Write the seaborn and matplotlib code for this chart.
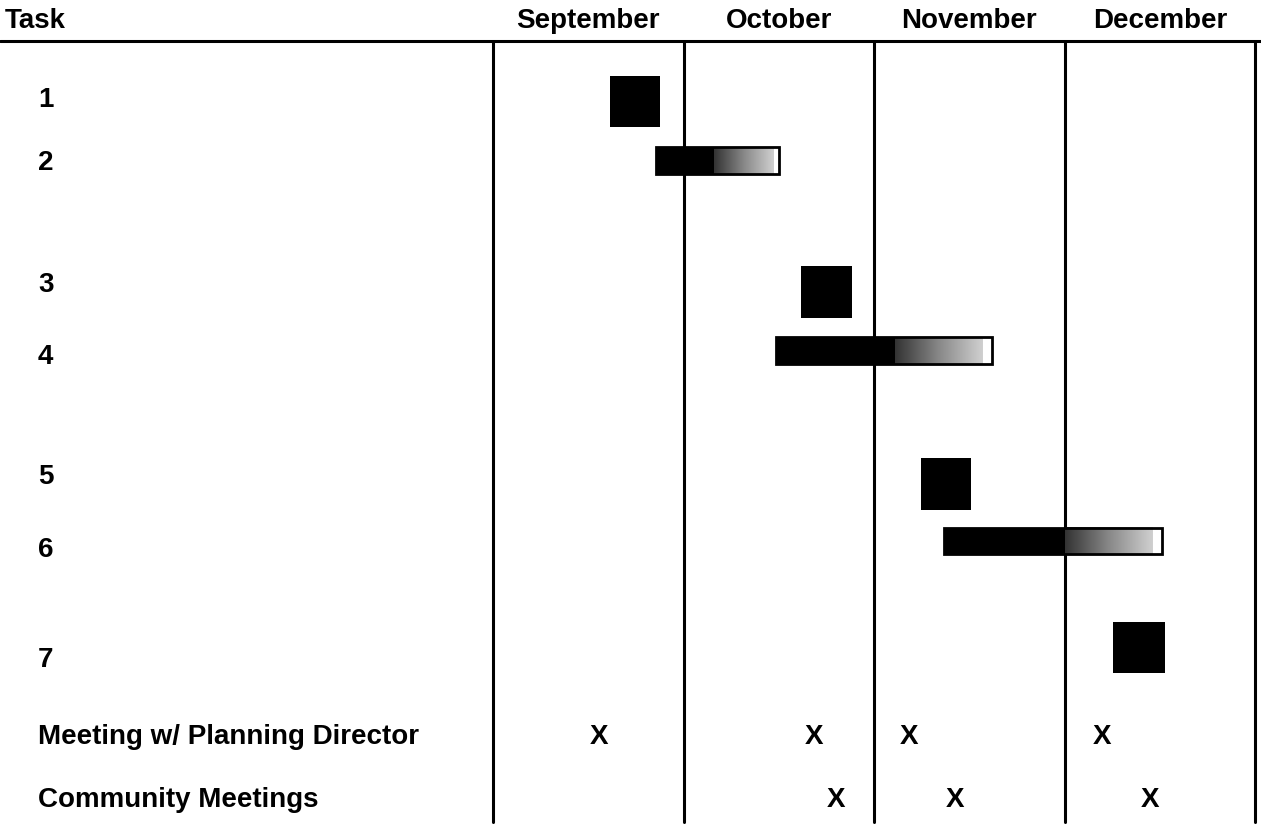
import numpy as np
import pandas as pd
import matplotlib
matplotlib.use("Agg")
import matplotlib.pyplot as plt
import seaborn as sns

# Month columns (x in months from Sept 1)
months = ["September", "October", "November", "December"]

# Rows: labels and vertical positions (row units)
row_labels = ["1", "2", "3", "4", "5", "6", "7",
              "Meeting w/ Planning Director", "Community Meetings"]
row_pos = [0, 0.98, 2.89, 4.02, 5.89, 7.03, 8.75, 9.95, 10.94]

# Task schedule (months since Sept 1)
task_y = [0.02, 0.94, 3.0, 3.92, 6.0, 6.89, 8.56]
task_start = [0.614, 0.856, 1.617, 1.486, 2.247, 2.367, 3.255]
task_solid_end = [0.877, 1.16, 1.885, 2.11, 2.509, 3.0, 3.528]
task_fade_end = [0.877, 1.47, 1.885, 2.57, 2.509, 3.46, 3.528]
task_end = [0.877, 1.50, 1.885, 2.62, 2.509, 3.51, 3.528]
task_kind = ["milestone", "bar", "milestone", "bar", "milestone", "bar", "milestone"]

# Meetings (months since Sept 1)
planning_dir = [0.556, 1.685, 2.184, 3.197]
community = [1.80, 2.425, 3.449]

sns.set_theme(style="white")
plt.rcParams["font.family"] = ["Liberation Sans", "DejaVu Sans"]
plt.rcParams["text.color"] = "black"

df = pd.DataFrame({"start": task_start, "solid_end": task_solid_end,
                   "fade_end": task_fade_end, "end": task_end,
                   "kind": task_kind, "y": task_y})

fig = plt.figure(figsize=(12.61, 8.27), dpi=100)
ax = fig.add_axes([0, 0, 1, 1])
ax.set_axis_off()

xmin, xmax = -493 / 190.5, (1261 - 493) / 190.5
ymin, ymax = -100 / 64, 727 / 64
fs = 20
fw = "bold"

# grid lines
head_y = -0.92
ax.plot([xmin, xmax], [head_y, head_y], color="black", lw=2.2)
for i in range(len(months) + 1):
    ax.plot([i, i], [head_y, 11.28], color="black", lw=2.2)

# header
ax.text(xmin + 5 / 190.5, -1.24, "Task", fontsize=fs, fontweight=fw, va="center", ha="left")
for i, m in enumerate(months):
    ax.text(i + 0.5, -1.24, m, fontsize=fs, fontweight=fw, va="center", ha="center")

# row labels
for lab, y in zip(row_labels, row_pos):
    ax.text(xmin + 38 / 190.5, y, lab, fontsize=fs, fontweight=fw, va="center", ha="left")

# fade colormap
grad = np.linspace(0, 1, 256).reshape(1, -1)
fade_cmap = matplotlib.colors.LinearSegmentedColormap.from_list(
    "fade", ["#333333", "#888888", "#d0d0d0"])

for _, r in df.iterrows():
    if r["kind"] == "milestone":
        h = 0.8
        ax.barh(r["y"], r["end"] - r["start"], left=r["start"], height=h,
                color="black", edgecolor="black", linewidth=0)
    else:
        h = 0.42
        ax.barh(r["y"], r["end"] - r["start"], left=r["start"], height=h,
                color="white", edgecolor="none", linewidth=0)
        ax.barh(r["y"], r["solid_end"] - r["start"], left=r["start"], height=h,
                color="black", linewidth=0)
        ax.imshow(grad, cmap=fade_cmap, aspect="auto", interpolation="bilinear",
                  extent=[r["solid_end"], r["fade_end"], r["y"] + h / 2, r["y"] - h / 2],
                  zorder=2)
        ax.barh(r["y"], r["end"] - r["start"], left=r["start"], height=h,
                fill=False, edgecolor="black", linewidth=2, zorder=3)

for x in planning_dir:
    ax.text(x, row_pos[7], "X", fontsize=fs, fontweight=fw, va="center", ha="center")
for x in community:
    ax.text(x, row_pos[8], "X", fontsize=fs, fontweight=fw, va="center", ha="center")

ax.set_xlim(xmin, xmax)
ax.set_ylim(ymax, ymin)

fig.savefig("out.png", dpi=100)
